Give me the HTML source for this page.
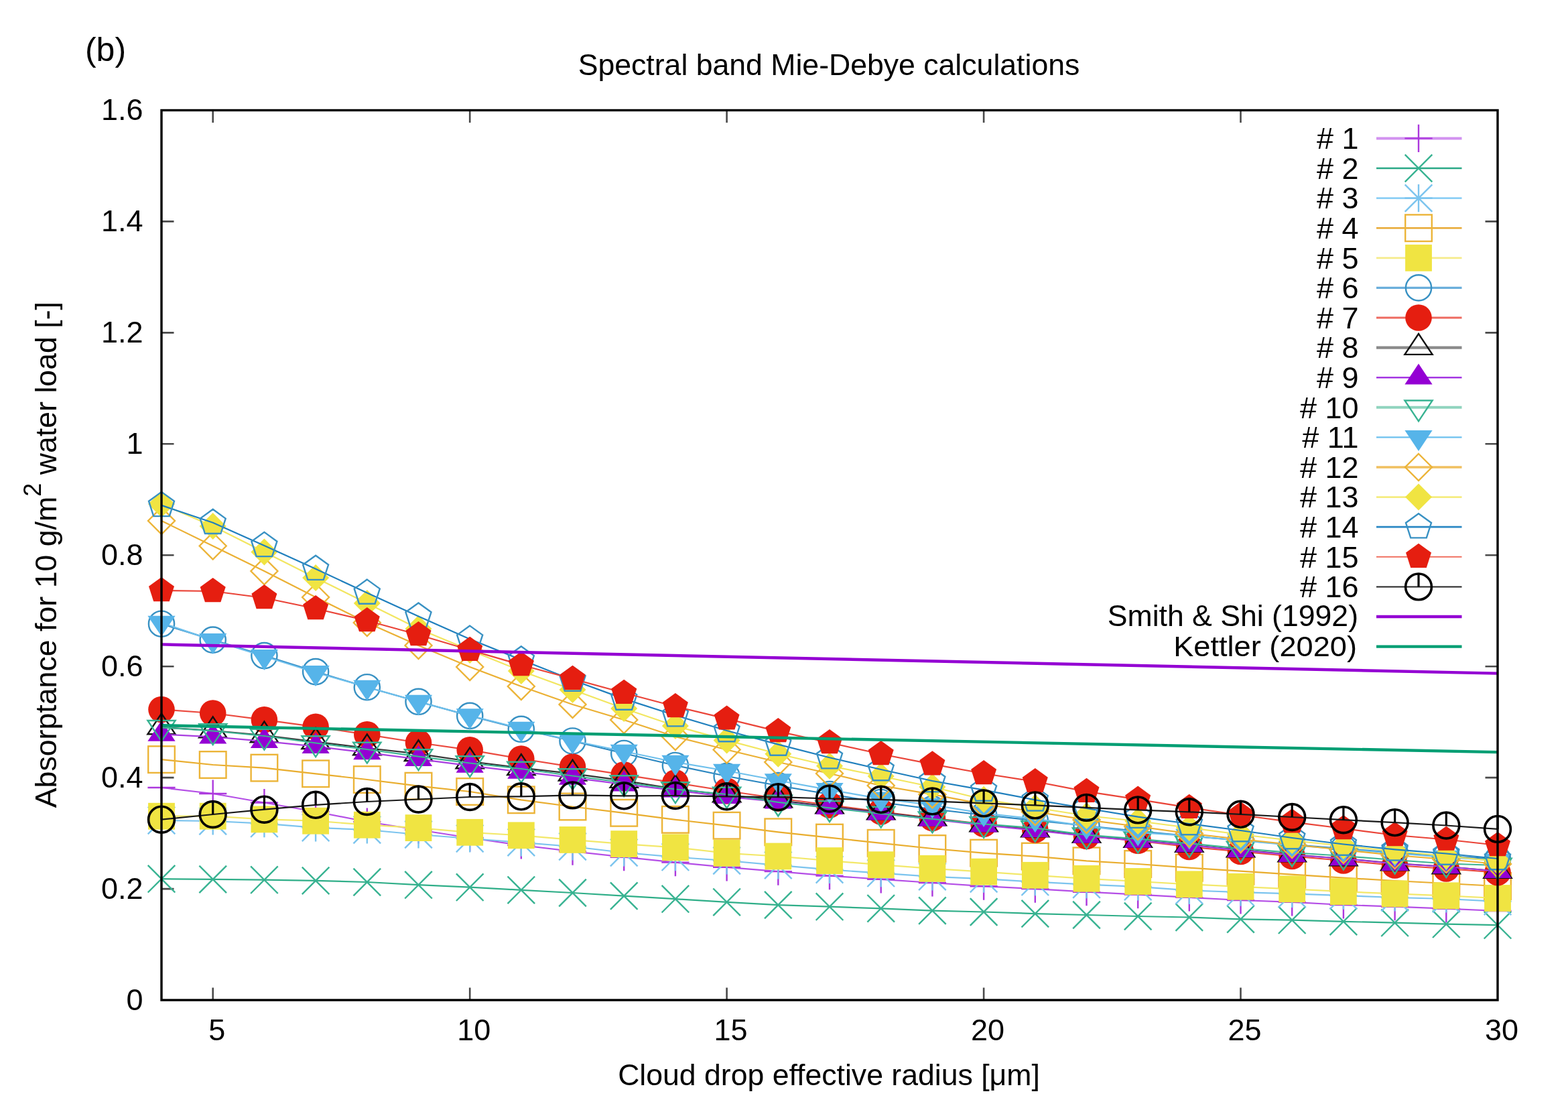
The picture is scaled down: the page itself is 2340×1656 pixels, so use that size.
<!DOCTYPE html><html><head><meta charset="utf-8"><title>Spectral band Mie-Debye calculations</title>
<style>html,body{margin:0;padding:0;background:#fff;}body{width:2340px;height:1656px;overflow:hidden;}svg{display:block;}text{font-family:"Liberation Sans",Arial,Helvetica,sans-serif;fill:#000;}</style></head><body>
<svg width="2340" height="1656" viewBox="0 0 2340 1656">
<rect width="2340" height="1656" fill="#fff"/>
<path d="M317.7 1492V1473.5M317.7 164.5V183M701.2 1492V1473.5M701.2 164.5V183M1084.6 1492V1473.5M1084.6 164.5V183M1468.1 1492V1473.5M1468.1 164.5V183M1851.5 1492V1473.5M1851.5 164.5V183M241 1326.1H259.5M2235 1326.1H2216.5M241 1160.1H259.5M2235 1160.1H2216.5M241 994.2H259.5M2235 994.2H2216.5M241 828.2H259.5M2235 828.2H2216.5M241 662.3H259.5M2235 662.3H2216.5M241 496.4H259.5M2235 496.4H2216.5M241 330.4H259.5M2235 330.4H2216.5" stroke="#4a4a4a" stroke-width="2.6" fill="none"/>
<text x="213.5" y="1506.5" font-size="45" text-anchor="end">0</text>
<text x="213.5" y="1340.6" font-size="45" text-anchor="end">0.2</text>
<text x="213.5" y="1174.6" font-size="45" text-anchor="end">0.4</text>
<text x="213.5" y="1008.7" font-size="45" text-anchor="end">0.6</text>
<text x="213.5" y="842.8" font-size="45" text-anchor="end">0.8</text>
<text x="213.5" y="676.8" font-size="45" text-anchor="end">1</text>
<text x="213.5" y="510.9" font-size="45" text-anchor="end">1.2</text>
<text x="213.5" y="344.9" font-size="45" text-anchor="end">1.4</text>
<text x="213.5" y="179" font-size="45" text-anchor="end">1.6</text>
<text x="323.7" y="1552" font-size="45" text-anchor="middle">5</text>
<text x="707.2" y="1552" font-size="45" text-anchor="middle">10</text>
<text x="1090.6" y="1552" font-size="45" text-anchor="middle">15</text>
<text x="1474.1" y="1552" font-size="45" text-anchor="middle">20</text>
<text x="1857.5" y="1552" font-size="45" text-anchor="middle">25</text>
<text x="2241" y="1552" font-size="45" text-anchor="middle">30</text>
<polyline points="241,1175 317.7,1184 394.4,1197.5 471.1,1211 547.8,1226 624.5,1238 701.2,1250 777.8,1261 854.5,1270.2 931.2,1278.7 1007.9,1286.6 1084.6,1293.8 1161.3,1300.1 1238,1306.6 1314.7,1311.8 1391.4,1317 1468.1,1322.2 1544.8,1326.1 1621.5,1330.7 1698.2,1334.6 1774.8,1338.9 1851.5,1343 1928.2,1345.8 2004.9,1350 2081.6,1352.7 2158.3,1355.7 2235,1359" stroke="#b44ee6" stroke-width="2.2" fill="none" stroke-linejoin="round"/>
<path d="M220.4 1175H261.6M241 1154.4V1195.6" stroke="#ac38dd" stroke-width="2.4" fill="none"/><path d="M297.1 1184H338.3M317.7 1163.4V1204.6" stroke="#ac38dd" stroke-width="2.4" fill="none"/><path d="M373.8 1197.5H415M394.4 1176.9V1218.1" stroke="#ac38dd" stroke-width="2.4" fill="none"/><path d="M450.5 1211H491.7M471.1 1190.4V1231.6" stroke="#ac38dd" stroke-width="2.4" fill="none"/><path d="M527.2 1226H568.4M547.8 1205.4V1246.6" stroke="#ac38dd" stroke-width="2.4" fill="none"/><path d="M603.9 1238H645.1M624.5 1217.4V1258.6" stroke="#ac38dd" stroke-width="2.4" fill="none"/><path d="M680.6 1250H721.8M701.2 1229.4V1270.6" stroke="#ac38dd" stroke-width="2.4" fill="none"/><path d="M757.2 1261H798.4M777.8 1240.4V1281.6" stroke="#ac38dd" stroke-width="2.4" fill="none"/><path d="M833.9 1270.2H875.1M854.5 1249.6V1290.8" stroke="#ac38dd" stroke-width="2.4" fill="none"/><path d="M910.6 1278.7H951.8M931.2 1258.1V1299.3" stroke="#ac38dd" stroke-width="2.4" fill="none"/><path d="M987.3 1286.6H1028.5M1007.9 1266V1307.2" stroke="#ac38dd" stroke-width="2.4" fill="none"/><path d="M1064 1293.8H1105.2M1084.6 1273.2V1314.4" stroke="#ac38dd" stroke-width="2.4" fill="none"/><path d="M1140.7 1300.1H1181.9M1161.3 1279.5V1320.7" stroke="#ac38dd" stroke-width="2.4" fill="none"/><path d="M1217.4 1306.6H1258.6M1238 1286V1327.2" stroke="#ac38dd" stroke-width="2.4" fill="none"/><path d="M1294.1 1311.8H1335.3M1314.7 1291.2V1332.4" stroke="#ac38dd" stroke-width="2.4" fill="none"/><path d="M1370.8 1317H1412M1391.4 1296.4V1337.6" stroke="#ac38dd" stroke-width="2.4" fill="none"/><path d="M1447.5 1322.2H1488.7M1468.1 1301.6V1342.8" stroke="#ac38dd" stroke-width="2.4" fill="none"/><path d="M1524.2 1326.1H1565.4M1544.8 1305.5V1346.7" stroke="#ac38dd" stroke-width="2.4" fill="none"/><path d="M1600.9 1330.7H1642.1M1621.5 1310.1V1351.3" stroke="#ac38dd" stroke-width="2.4" fill="none"/><path d="M1677.6 1334.6H1718.8M1698.2 1314V1355.2" stroke="#ac38dd" stroke-width="2.4" fill="none"/><path d="M1754.2 1338.9H1795.4M1774.8 1318.3V1359.5" stroke="#ac38dd" stroke-width="2.4" fill="none"/><path d="M1830.9 1343H1872.1M1851.5 1322.4V1363.6" stroke="#ac38dd" stroke-width="2.4" fill="none"/><path d="M1907.6 1345.8H1948.8M1928.2 1325.2V1366.4" stroke="#ac38dd" stroke-width="2.4" fill="none"/><path d="M1984.3 1350H2025.5M2004.9 1329.4V1370.6" stroke="#ac38dd" stroke-width="2.4" fill="none"/><path d="M2061 1352.7H2102.2M2081.6 1332.1V1373.3" stroke="#ac38dd" stroke-width="2.4" fill="none"/><path d="M2137.7 1355.7H2178.9M2158.3 1335.1V1376.3" stroke="#ac38dd" stroke-width="2.4" fill="none"/><path d="M2214.4 1359H2255.6M2235 1338.4V1379.6" stroke="#ac38dd" stroke-width="2.4" fill="none"/>
<polyline points="241,1311.2 317.7,1311.9 394.4,1312.7 471.1,1313.9 547.8,1316 624.5,1320.2 701.2,1323.7 777.8,1327.8 854.5,1332 931.2,1336.6 1007.9,1341.2 1084.6,1345.8 1161.3,1350.1 1238,1352.7 1314.7,1355.3 1391.4,1358.6 1468.1,1360.5 1544.8,1363.1 1621.5,1365 1698.2,1367 1774.8,1368.5 1851.5,1371.3 1928.2,1372.7 2004.9,1374.8 2081.6,1376.7 2158.3,1378.7 2235,1380.2" stroke="#2fae88" stroke-width="2.2" fill="none" stroke-linejoin="round"/>
<path d="M220.7 1290.9L261.3 1331.5M220.7 1331.5L261.3 1290.9" stroke="#38b392" stroke-width="2.4" fill="none"/><path d="M297.4 1291.6L338 1332.2M297.4 1332.2L338 1291.6" stroke="#38b392" stroke-width="2.4" fill="none"/><path d="M374.1 1292.4L414.7 1333M374.1 1333L414.7 1292.4" stroke="#38b392" stroke-width="2.4" fill="none"/><path d="M450.8 1293.6L491.4 1334.2M450.8 1334.2L491.4 1293.6" stroke="#38b392" stroke-width="2.4" fill="none"/><path d="M527.5 1295.7L568.1 1336.3M527.5 1336.3L568.1 1295.7" stroke="#38b392" stroke-width="2.4" fill="none"/><path d="M604.2 1299.9L644.8 1340.5M604.2 1340.5L644.8 1299.9" stroke="#38b392" stroke-width="2.4" fill="none"/><path d="M680.9 1303.4L721.5 1344M680.9 1344L721.5 1303.4" stroke="#38b392" stroke-width="2.4" fill="none"/><path d="M757.5 1307.5L798.1 1348.1M757.5 1348.1L798.1 1307.5" stroke="#38b392" stroke-width="2.4" fill="none"/><path d="M834.2 1311.7L874.8 1352.3M834.2 1352.3L874.8 1311.7" stroke="#38b392" stroke-width="2.4" fill="none"/><path d="M910.9 1316.3L951.5 1356.9M910.9 1356.9L951.5 1316.3" stroke="#38b392" stroke-width="2.4" fill="none"/><path d="M987.6 1320.9L1028.2 1361.5M987.6 1361.5L1028.2 1320.9" stroke="#38b392" stroke-width="2.4" fill="none"/><path d="M1064.3 1325.5L1104.9 1366.1M1064.3 1366.1L1104.9 1325.5" stroke="#38b392" stroke-width="2.4" fill="none"/><path d="M1141 1329.8L1181.6 1370.4M1141 1370.4L1181.6 1329.8" stroke="#38b392" stroke-width="2.4" fill="none"/><path d="M1217.7 1332.4L1258.3 1373M1217.7 1373L1258.3 1332.4" stroke="#38b392" stroke-width="2.4" fill="none"/><path d="M1294.4 1335L1335 1375.6M1294.4 1375.6L1335 1335" stroke="#38b392" stroke-width="2.4" fill="none"/><path d="M1371.1 1338.3L1411.7 1378.9M1371.1 1378.9L1411.7 1338.3" stroke="#38b392" stroke-width="2.4" fill="none"/><path d="M1447.8 1340.2L1488.4 1380.8M1447.8 1380.8L1488.4 1340.2" stroke="#38b392" stroke-width="2.4" fill="none"/><path d="M1524.5 1342.8L1565.1 1383.4M1524.5 1383.4L1565.1 1342.8" stroke="#38b392" stroke-width="2.4" fill="none"/><path d="M1601.2 1344.7L1641.8 1385.3M1601.2 1385.3L1641.8 1344.7" stroke="#38b392" stroke-width="2.4" fill="none"/><path d="M1677.9 1346.7L1718.5 1387.3M1677.9 1387.3L1718.5 1346.7" stroke="#38b392" stroke-width="2.4" fill="none"/><path d="M1754.5 1348.2L1795.1 1388.8M1754.5 1388.8L1795.1 1348.2" stroke="#38b392" stroke-width="2.4" fill="none"/><path d="M1831.2 1351L1871.8 1391.6M1831.2 1391.6L1871.8 1351" stroke="#38b392" stroke-width="2.4" fill="none"/><path d="M1907.9 1352.4L1948.5 1393M1907.9 1393L1948.5 1352.4" stroke="#38b392" stroke-width="2.4" fill="none"/><path d="M1984.6 1354.5L2025.2 1395.1M1984.6 1395.1L2025.2 1354.5" stroke="#38b392" stroke-width="2.4" fill="none"/><path d="M2061.3 1356.4L2101.9 1397M2061.3 1397L2101.9 1356.4" stroke="#38b392" stroke-width="2.4" fill="none"/><path d="M2138 1358.4L2178.6 1399M2138 1399L2178.6 1358.4" stroke="#38b392" stroke-width="2.4" fill="none"/><path d="M2214.7 1359.9L2255.3 1400.5M2214.7 1400.5L2255.3 1359.9" stroke="#38b392" stroke-width="2.4" fill="none"/>
<polyline points="241,1224 317.7,1225 394.4,1228.7 471.1,1234.8 547.8,1238 624.5,1245 701.2,1251 777.8,1256.8 854.5,1263 931.2,1272 1007.9,1278.7 1084.6,1284 1161.3,1290.9 1238,1297.4 1314.7,1302.7 1391.4,1307.9 1468.1,1311.1 1544.8,1315.7 1621.5,1319.6 1698.2,1322.9 1774.8,1328.4 1851.5,1331.2 1928.2,1333.3 2004.9,1336.1 2081.6,1339 2158.3,1341 2235,1344.8" stroke="#7cc4ee" stroke-width="2.2" fill="none" stroke-linejoin="round"/>
<path d="M220.7 1203.7L261.3 1244.3M220.7 1244.3L261.3 1203.7M220.4 1224H261.6M241 1203.4V1244.6" stroke="#7bc4ee" stroke-width="2.4" fill="none"/><path d="M297.4 1204.7L338 1245.3M297.4 1245.3L338 1204.7M297.1 1225H338.3M317.7 1204.4V1245.6" stroke="#7bc4ee" stroke-width="2.4" fill="none"/><path d="M374.1 1208.4L414.7 1249M374.1 1249L414.7 1208.4M373.8 1228.7H415M394.4 1208.1V1249.3" stroke="#7bc4ee" stroke-width="2.4" fill="none"/><path d="M450.8 1214.5L491.4 1255.1M450.8 1255.1L491.4 1214.5M450.5 1234.8H491.7M471.1 1214.2V1255.4" stroke="#7bc4ee" stroke-width="2.4" fill="none"/><path d="M527.5 1217.7L568.1 1258.3M527.5 1258.3L568.1 1217.7M527.2 1238H568.4M547.8 1217.4V1258.6" stroke="#7bc4ee" stroke-width="2.4" fill="none"/><path d="M604.2 1224.7L644.8 1265.3M604.2 1265.3L644.8 1224.7M603.9 1245H645.1M624.5 1224.4V1265.6" stroke="#7bc4ee" stroke-width="2.4" fill="none"/><path d="M680.9 1230.7L721.5 1271.3M680.9 1271.3L721.5 1230.7M680.6 1251H721.8M701.2 1230.4V1271.6" stroke="#7bc4ee" stroke-width="2.4" fill="none"/><path d="M757.5 1236.5L798.1 1277.1M757.5 1277.1L798.1 1236.5M757.2 1256.8H798.4M777.8 1236.2V1277.4" stroke="#7bc4ee" stroke-width="2.4" fill="none"/><path d="M834.2 1242.7L874.8 1283.3M834.2 1283.3L874.8 1242.7M833.9 1263H875.1M854.5 1242.4V1283.6" stroke="#7bc4ee" stroke-width="2.4" fill="none"/><path d="M910.9 1251.7L951.5 1292.3M910.9 1292.3L951.5 1251.7M910.6 1272H951.8M931.2 1251.4V1292.6" stroke="#7bc4ee" stroke-width="2.4" fill="none"/><path d="M987.6 1258.4L1028.2 1299M987.6 1299L1028.2 1258.4M987.3 1278.7H1028.5M1007.9 1258.1V1299.3" stroke="#7bc4ee" stroke-width="2.4" fill="none"/><path d="M1064.3 1263.7L1104.9 1304.3M1064.3 1304.3L1104.9 1263.7M1064 1284H1105.2M1084.6 1263.4V1304.6" stroke="#7bc4ee" stroke-width="2.4" fill="none"/><path d="M1141 1270.6L1181.6 1311.2M1141 1311.2L1181.6 1270.6M1140.7 1290.9H1181.9M1161.3 1270.3V1311.5" stroke="#7bc4ee" stroke-width="2.4" fill="none"/><path d="M1217.7 1277.1L1258.3 1317.7M1217.7 1317.7L1258.3 1277.1M1217.4 1297.4H1258.6M1238 1276.8V1318" stroke="#7bc4ee" stroke-width="2.4" fill="none"/><path d="M1294.4 1282.4L1335 1323M1294.4 1323L1335 1282.4M1294.1 1302.7H1335.3M1314.7 1282.1V1323.3" stroke="#7bc4ee" stroke-width="2.4" fill="none"/><path d="M1371.1 1287.6L1411.7 1328.2M1371.1 1328.2L1411.7 1287.6M1370.8 1307.9H1412M1391.4 1287.3V1328.5" stroke="#7bc4ee" stroke-width="2.4" fill="none"/><path d="M1447.8 1290.8L1488.4 1331.4M1447.8 1331.4L1488.4 1290.8M1447.5 1311.1H1488.7M1468.1 1290.5V1331.7" stroke="#7bc4ee" stroke-width="2.4" fill="none"/><path d="M1524.5 1295.4L1565.1 1336M1524.5 1336L1565.1 1295.4M1524.2 1315.7H1565.4M1544.8 1295.1V1336.3" stroke="#7bc4ee" stroke-width="2.4" fill="none"/><path d="M1601.2 1299.3L1641.8 1339.9M1601.2 1339.9L1641.8 1299.3M1600.9 1319.6H1642.1M1621.5 1299V1340.2" stroke="#7bc4ee" stroke-width="2.4" fill="none"/><path d="M1677.9 1302.6L1718.5 1343.2M1677.9 1343.2L1718.5 1302.6M1677.6 1322.9H1718.8M1698.2 1302.3V1343.5" stroke="#7bc4ee" stroke-width="2.4" fill="none"/><path d="M1754.5 1308.1L1795.1 1348.7M1754.5 1348.7L1795.1 1308.1M1754.2 1328.4H1795.4M1774.8 1307.8V1349" stroke="#7bc4ee" stroke-width="2.4" fill="none"/><path d="M1831.2 1310.9L1871.8 1351.5M1831.2 1351.5L1871.8 1310.9M1830.9 1331.2H1872.1M1851.5 1310.6V1351.8" stroke="#7bc4ee" stroke-width="2.4" fill="none"/><path d="M1907.9 1313L1948.5 1353.6M1907.9 1353.6L1948.5 1313M1907.6 1333.3H1948.8M1928.2 1312.7V1353.9" stroke="#7bc4ee" stroke-width="2.4" fill="none"/><path d="M1984.6 1315.8L2025.2 1356.4M1984.6 1356.4L2025.2 1315.8M1984.3 1336.1H2025.5M2004.9 1315.5V1356.7" stroke="#7bc4ee" stroke-width="2.4" fill="none"/><path d="M2061.3 1318.7L2101.9 1359.3M2061.3 1359.3L2101.9 1318.7M2061 1339H2102.2M2081.6 1318.4V1359.6" stroke="#7bc4ee" stroke-width="2.4" fill="none"/><path d="M2138 1320.7L2178.6 1361.3M2138 1361.3L2178.6 1320.7M2137.7 1341H2178.9M2158.3 1320.4V1361.6" stroke="#7bc4ee" stroke-width="2.4" fill="none"/><path d="M2214.7 1324.5L2255.3 1365.1M2214.7 1365.1L2255.3 1324.5M2214.4 1344.8H2255.6M2235 1324.2V1365.4" stroke="#7bc4ee" stroke-width="2.4" fill="none"/>
<polyline points="241,1133.1 317.7,1141 394.4,1145.6 471.1,1154.3 547.8,1163 624.5,1172.7 701.2,1181 777.8,1193.3 854.5,1203.5 931.2,1212.8 1007.9,1222.8 1084.6,1231.7 1161.3,1241.3 1238,1249.6 1314.7,1257.8 1391.4,1266 1468.1,1272.6 1544.8,1277.6 1621.5,1284.3 1698.2,1289 1774.8,1294.7 1851.5,1299.7 1928.2,1304.7 2004.9,1309.7 2081.6,1314 2158.3,1318 2235,1322" stroke="#e9ad2e" stroke-width="2.2" fill="none" stroke-linejoin="round"/>
<rect x="221.2" y="1113.3" width="39.6" height="39.6" stroke="#ecb438" stroke-width="2.4" fill="none"/><rect x="297.9" y="1121.2" width="39.6" height="39.6" stroke="#ecb438" stroke-width="2.4" fill="none"/><rect x="374.6" y="1125.8" width="39.6" height="39.6" stroke="#ecb438" stroke-width="2.4" fill="none"/><rect x="451.3" y="1134.5" width="39.6" height="39.6" stroke="#ecb438" stroke-width="2.4" fill="none"/><rect x="528" y="1143.2" width="39.6" height="39.6" stroke="#ecb438" stroke-width="2.4" fill="none"/><rect x="604.7" y="1152.9" width="39.6" height="39.6" stroke="#ecb438" stroke-width="2.4" fill="none"/><rect x="681.4" y="1161.2" width="39.6" height="39.6" stroke="#ecb438" stroke-width="2.4" fill="none"/><rect x="758" y="1173.5" width="39.6" height="39.6" stroke="#ecb438" stroke-width="2.4" fill="none"/><rect x="834.7" y="1183.7" width="39.6" height="39.6" stroke="#ecb438" stroke-width="2.4" fill="none"/><rect x="911.4" y="1193" width="39.6" height="39.6" stroke="#ecb438" stroke-width="2.4" fill="none"/><rect x="988.1" y="1203" width="39.6" height="39.6" stroke="#ecb438" stroke-width="2.4" fill="none"/><rect x="1064.8" y="1211.9" width="39.6" height="39.6" stroke="#ecb438" stroke-width="2.4" fill="none"/><rect x="1141.5" y="1221.5" width="39.6" height="39.6" stroke="#ecb438" stroke-width="2.4" fill="none"/><rect x="1218.2" y="1229.8" width="39.6" height="39.6" stroke="#ecb438" stroke-width="2.4" fill="none"/><rect x="1294.9" y="1238" width="39.6" height="39.6" stroke="#ecb438" stroke-width="2.4" fill="none"/><rect x="1371.6" y="1246.2" width="39.6" height="39.6" stroke="#ecb438" stroke-width="2.4" fill="none"/><rect x="1448.3" y="1252.8" width="39.6" height="39.6" stroke="#ecb438" stroke-width="2.4" fill="none"/><rect x="1525" y="1257.8" width="39.6" height="39.6" stroke="#ecb438" stroke-width="2.4" fill="none"/><rect x="1601.7" y="1264.5" width="39.6" height="39.6" stroke="#ecb438" stroke-width="2.4" fill="none"/><rect x="1678.4" y="1269.2" width="39.6" height="39.6" stroke="#ecb438" stroke-width="2.4" fill="none"/><rect x="1755" y="1274.9" width="39.6" height="39.6" stroke="#ecb438" stroke-width="2.4" fill="none"/><rect x="1831.7" y="1279.9" width="39.6" height="39.6" stroke="#ecb438" stroke-width="2.4" fill="none"/><rect x="1908.4" y="1284.9" width="39.6" height="39.6" stroke="#ecb438" stroke-width="2.4" fill="none"/><rect x="1985.1" y="1289.9" width="39.6" height="39.6" stroke="#ecb438" stroke-width="2.4" fill="none"/><rect x="2061.8" y="1294.2" width="39.6" height="39.6" stroke="#ecb438" stroke-width="2.4" fill="none"/><rect x="2138.5" y="1298.2" width="39.6" height="39.6" stroke="#ecb438" stroke-width="2.4" fill="none"/><rect x="2215.2" y="1302.2" width="39.6" height="39.6" stroke="#ecb438" stroke-width="2.4" fill="none"/>
<polyline points="241,1217.7 317.7,1217.7 394.4,1222.4 471.1,1224.7 547.8,1230.7 624.5,1235.1 701.2,1241.8 777.8,1246.3 854.5,1252.9 931.2,1259.1 1007.9,1264.3 1084.6,1272.8 1161.3,1277.5 1238,1284.1 1314.7,1290.2 1391.4,1295.8 1468.1,1300.6 1544.8,1305.8 1621.5,1310.8 1698.2,1315 1774.8,1319.3 1851.5,1322.8 1928.2,1326.3 2004.9,1330.2 2081.6,1333.4 2158.3,1336.3 2235,1340" stroke="#f3e86a" stroke-width="2.2" fill="none" stroke-linejoin="round"/>
<rect x="221.1" y="1197.8" width="39.8" height="39.8" fill="#f0e442"/><rect x="297.8" y="1197.8" width="39.8" height="39.8" fill="#f0e442"/><rect x="374.5" y="1202.5" width="39.8" height="39.8" fill="#f0e442"/><rect x="451.2" y="1204.8" width="39.8" height="39.8" fill="#f0e442"/><rect x="527.9" y="1210.8" width="39.8" height="39.8" fill="#f0e442"/><rect x="604.6" y="1215.2" width="39.8" height="39.8" fill="#f0e442"/><rect x="681.3" y="1221.9" width="39.8" height="39.8" fill="#f0e442"/><rect x="757.9" y="1226.4" width="39.8" height="39.8" fill="#f0e442"/><rect x="834.6" y="1233" width="39.8" height="39.8" fill="#f0e442"/><rect x="911.3" y="1239.2" width="39.8" height="39.8" fill="#f0e442"/><rect x="988" y="1244.4" width="39.8" height="39.8" fill="#f0e442"/><rect x="1064.7" y="1252.9" width="39.8" height="39.8" fill="#f0e442"/><rect x="1141.4" y="1257.6" width="39.8" height="39.8" fill="#f0e442"/><rect x="1218.1" y="1264.2" width="39.8" height="39.8" fill="#f0e442"/><rect x="1294.8" y="1270.3" width="39.8" height="39.8" fill="#f0e442"/><rect x="1371.5" y="1275.9" width="39.8" height="39.8" fill="#f0e442"/><rect x="1448.2" y="1280.7" width="39.8" height="39.8" fill="#f0e442"/><rect x="1524.9" y="1285.9" width="39.8" height="39.8" fill="#f0e442"/><rect x="1601.6" y="1290.9" width="39.8" height="39.8" fill="#f0e442"/><rect x="1678.3" y="1295.1" width="39.8" height="39.8" fill="#f0e442"/><rect x="1754.9" y="1299.4" width="39.8" height="39.8" fill="#f0e442"/><rect x="1831.6" y="1302.9" width="39.8" height="39.8" fill="#f0e442"/><rect x="1908.3" y="1306.4" width="39.8" height="39.8" fill="#f0e442"/><rect x="1985" y="1310.3" width="39.8" height="39.8" fill="#f0e442"/><rect x="2061.7" y="1313.5" width="39.8" height="39.8" fill="#f0e442"/><rect x="2138.4" y="1316.4" width="39.8" height="39.8" fill="#f0e442"/><rect x="2215.1" y="1320.1" width="39.8" height="39.8" fill="#f0e442"/>
<polyline points="241,930.7 317.7,954.6 394.4,978.1 471.1,1002.1 547.8,1025.2 624.5,1046.8 701.2,1067.9 777.8,1087.8 854.5,1105.5 931.2,1124 1007.9,1142 1084.6,1158 1161.3,1172 1238,1185 1314.7,1197 1391.4,1207 1468.1,1216 1544.8,1224 1621.5,1232 1698.2,1240 1774.8,1247 1851.5,1254 1928.2,1260 2004.9,1266 2081.6,1272 2158.3,1277 2235,1282" stroke="#2a86c0" stroke-width="2.2" fill="none" stroke-linejoin="round"/>
<circle cx="241" cy="930.7" r="19.1" stroke="#3891c3" stroke-width="2.4" fill="none"/><circle cx="317.7" cy="954.6" r="19.1" stroke="#3891c3" stroke-width="2.4" fill="none"/><circle cx="394.4" cy="978.1" r="19.1" stroke="#3891c3" stroke-width="2.4" fill="none"/><circle cx="471.1" cy="1002.1" r="19.1" stroke="#3891c3" stroke-width="2.4" fill="none"/><circle cx="547.8" cy="1025.2" r="19.1" stroke="#3891c3" stroke-width="2.4" fill="none"/><circle cx="624.5" cy="1046.8" r="19.1" stroke="#3891c3" stroke-width="2.4" fill="none"/><circle cx="701.2" cy="1067.9" r="19.1" stroke="#3891c3" stroke-width="2.4" fill="none"/><circle cx="777.8" cy="1087.8" r="19.1" stroke="#3891c3" stroke-width="2.4" fill="none"/><circle cx="854.5" cy="1105.5" r="19.1" stroke="#3891c3" stroke-width="2.4" fill="none"/><circle cx="931.2" cy="1124" r="19.1" stroke="#3891c3" stroke-width="2.4" fill="none"/><circle cx="1007.9" cy="1142" r="19.1" stroke="#3891c3" stroke-width="2.4" fill="none"/><circle cx="1084.6" cy="1158" r="19.1" stroke="#3891c3" stroke-width="2.4" fill="none"/><circle cx="1161.3" cy="1172" r="19.1" stroke="#3891c3" stroke-width="2.4" fill="none"/><circle cx="1238" cy="1185" r="19.1" stroke="#3891c3" stroke-width="2.4" fill="none"/><circle cx="1314.7" cy="1197" r="19.1" stroke="#3891c3" stroke-width="2.4" fill="none"/><circle cx="1391.4" cy="1207" r="19.1" stroke="#3891c3" stroke-width="2.4" fill="none"/><circle cx="1468.1" cy="1216" r="19.1" stroke="#3891c3" stroke-width="2.4" fill="none"/><circle cx="1544.8" cy="1224" r="19.1" stroke="#3891c3" stroke-width="2.4" fill="none"/><circle cx="1621.5" cy="1232" r="19.1" stroke="#3891c3" stroke-width="2.4" fill="none"/><circle cx="1698.2" cy="1240" r="19.1" stroke="#3891c3" stroke-width="2.4" fill="none"/><circle cx="1774.8" cy="1247" r="19.1" stroke="#3891c3" stroke-width="2.4" fill="none"/><circle cx="1851.5" cy="1254" r="19.1" stroke="#3891c3" stroke-width="2.4" fill="none"/><circle cx="1928.2" cy="1260" r="19.1" stroke="#3891c3" stroke-width="2.4" fill="none"/><circle cx="2004.9" cy="1266" r="19.1" stroke="#3891c3" stroke-width="2.4" fill="none"/><circle cx="2081.6" cy="1272" r="19.1" stroke="#3891c3" stroke-width="2.4" fill="none"/><circle cx="2158.3" cy="1277" r="19.1" stroke="#3891c3" stroke-width="2.4" fill="none"/><circle cx="2235" cy="1282" r="19.1" stroke="#3891c3" stroke-width="2.4" fill="none"/>
<polyline points="241,1058.5 317.7,1064 394.4,1073.8 471.1,1084.3 547.8,1095.8 624.5,1108 701.2,1118.8 777.8,1132 854.5,1144.1 931.2,1155.9 1007.9,1167.9 1084.6,1180 1161.3,1191 1238,1201 1314.7,1211 1391.4,1220.5 1468.1,1229.3 1544.8,1238 1621.5,1247.4 1698.2,1254.3 1774.8,1263.5 1851.5,1270.4 1928.2,1277.4 2004.9,1284 2081.6,1291 2158.3,1296 2235,1301.6" stroke="#eb4a3f" stroke-width="2.2" fill="none" stroke-linejoin="round"/>
<circle cx="241" cy="1058.5" r="19.8" fill="#e51e10"/><circle cx="317.7" cy="1064" r="19.8" fill="#e51e10"/><circle cx="394.4" cy="1073.8" r="19.8" fill="#e51e10"/><circle cx="471.1" cy="1084.3" r="19.8" fill="#e51e10"/><circle cx="547.8" cy="1095.8" r="19.8" fill="#e51e10"/><circle cx="624.5" cy="1108" r="19.8" fill="#e51e10"/><circle cx="701.2" cy="1118.8" r="19.8" fill="#e51e10"/><circle cx="777.8" cy="1132" r="19.8" fill="#e51e10"/><circle cx="854.5" cy="1144.1" r="19.8" fill="#e51e10"/><circle cx="931.2" cy="1155.9" r="19.8" fill="#e51e10"/><circle cx="1007.9" cy="1167.9" r="19.8" fill="#e51e10"/><circle cx="1084.6" cy="1180" r="19.8" fill="#e51e10"/><circle cx="1161.3" cy="1191" r="19.8" fill="#e51e10"/><circle cx="1238" cy="1201" r="19.8" fill="#e51e10"/><circle cx="1314.7" cy="1211" r="19.8" fill="#e51e10"/><circle cx="1391.4" cy="1220.5" r="19.8" fill="#e51e10"/><circle cx="1468.1" cy="1229.3" r="19.8" fill="#e51e10"/><circle cx="1544.8" cy="1238" r="19.8" fill="#e51e10"/><circle cx="1621.5" cy="1247.4" r="19.8" fill="#e51e10"/><circle cx="1698.2" cy="1254.3" r="19.8" fill="#e51e10"/><circle cx="1774.8" cy="1263.5" r="19.8" fill="#e51e10"/><circle cx="1851.5" cy="1270.4" r="19.8" fill="#e51e10"/><circle cx="1928.2" cy="1277.4" r="19.8" fill="#e51e10"/><circle cx="2004.9" cy="1284" r="19.8" fill="#e51e10"/><circle cx="2081.6" cy="1291" r="19.8" fill="#e51e10"/><circle cx="2158.3" cy="1296" r="19.8" fill="#e51e10"/><circle cx="2235" cy="1301.6" r="19.8" fill="#e51e10"/>
<polyline points="241,1085 317.7,1090 394.4,1097 471.1,1106.7 547.8,1116 624.5,1124.7 701.2,1136 777.8,1145.7 854.5,1154.2 931.2,1164.6 1007.9,1177 1084.6,1186 1161.3,1194 1238,1203 1314.7,1212 1391.4,1221 1468.1,1230 1544.8,1238 1621.5,1246.5 1698.2,1253.5 1774.8,1260.5 1851.5,1268 1928.2,1275 2004.9,1281 2081.6,1288 2158.3,1293 2235,1299.5" stroke="#333333" stroke-width="2.2" fill="none" stroke-linejoin="round"/>
<path d="M241 1064.4L261.6 1095.3L220.4 1095.3Z" stroke="#111111" stroke-width="2.4" fill="none" stroke-linejoin="miter"/><path d="M317.7 1069.4L338.3 1100.3L297.1 1100.3Z" stroke="#111111" stroke-width="2.4" fill="none" stroke-linejoin="miter"/><path d="M394.4 1076.4L415 1107.3L373.8 1107.3Z" stroke="#111111" stroke-width="2.4" fill="none" stroke-linejoin="miter"/><path d="M471.1 1086.1L491.7 1117L450.5 1117Z" stroke="#111111" stroke-width="2.4" fill="none" stroke-linejoin="miter"/><path d="M547.8 1095.4L568.4 1126.3L527.2 1126.3Z" stroke="#111111" stroke-width="2.4" fill="none" stroke-linejoin="miter"/><path d="M624.5 1104.1L645.1 1135L603.9 1135Z" stroke="#111111" stroke-width="2.4" fill="none" stroke-linejoin="miter"/><path d="M701.2 1115.4L721.8 1146.3L680.6 1146.3Z" stroke="#111111" stroke-width="2.4" fill="none" stroke-linejoin="miter"/><path d="M777.8 1125.1L798.4 1156L757.2 1156Z" stroke="#111111" stroke-width="2.4" fill="none" stroke-linejoin="miter"/><path d="M854.5 1133.6L875.1 1164.5L833.9 1164.5Z" stroke="#111111" stroke-width="2.4" fill="none" stroke-linejoin="miter"/><path d="M931.2 1144L951.8 1174.9L910.6 1174.9Z" stroke="#111111" stroke-width="2.4" fill="none" stroke-linejoin="miter"/><path d="M1007.9 1156.4L1028.5 1187.3L987.3 1187.3Z" stroke="#111111" stroke-width="2.4" fill="none" stroke-linejoin="miter"/><path d="M1084.6 1165.4L1105.2 1196.3L1064 1196.3Z" stroke="#111111" stroke-width="2.4" fill="none" stroke-linejoin="miter"/><path d="M1161.3 1173.4L1181.9 1204.3L1140.7 1204.3Z" stroke="#111111" stroke-width="2.4" fill="none" stroke-linejoin="miter"/><path d="M1238 1182.4L1258.6 1213.3L1217.4 1213.3Z" stroke="#111111" stroke-width="2.4" fill="none" stroke-linejoin="miter"/><path d="M1314.7 1191.4L1335.3 1222.3L1294.1 1222.3Z" stroke="#111111" stroke-width="2.4" fill="none" stroke-linejoin="miter"/><path d="M1391.4 1200.4L1412 1231.3L1370.8 1231.3Z" stroke="#111111" stroke-width="2.4" fill="none" stroke-linejoin="miter"/><path d="M1468.1 1209.4L1488.7 1240.3L1447.5 1240.3Z" stroke="#111111" stroke-width="2.4" fill="none" stroke-linejoin="miter"/><path d="M1544.8 1217.4L1565.4 1248.3L1524.2 1248.3Z" stroke="#111111" stroke-width="2.4" fill="none" stroke-linejoin="miter"/><path d="M1621.5 1225.9L1642.1 1256.8L1600.9 1256.8Z" stroke="#111111" stroke-width="2.4" fill="none" stroke-linejoin="miter"/><path d="M1698.2 1232.9L1718.8 1263.8L1677.6 1263.8Z" stroke="#111111" stroke-width="2.4" fill="none" stroke-linejoin="miter"/><path d="M1774.8 1239.9L1795.4 1270.8L1754.2 1270.8Z" stroke="#111111" stroke-width="2.4" fill="none" stroke-linejoin="miter"/><path d="M1851.5 1247.4L1872.1 1278.3L1830.9 1278.3Z" stroke="#111111" stroke-width="2.4" fill="none" stroke-linejoin="miter"/><path d="M1928.2 1254.4L1948.8 1285.3L1907.6 1285.3Z" stroke="#111111" stroke-width="2.4" fill="none" stroke-linejoin="miter"/><path d="M2004.9 1260.4L2025.5 1291.3L1984.3 1291.3Z" stroke="#111111" stroke-width="2.4" fill="none" stroke-linejoin="miter"/><path d="M2081.6 1267.4L2102.2 1298.3L2061 1298.3Z" stroke="#111111" stroke-width="2.4" fill="none" stroke-linejoin="miter"/><path d="M2158.3 1272.4L2178.9 1303.3L2137.7 1303.3Z" stroke="#111111" stroke-width="2.4" fill="none" stroke-linejoin="miter"/><path d="M2235 1278.9L2255.6 1309.8L2214.4 1309.8Z" stroke="#111111" stroke-width="2.4" fill="none" stroke-linejoin="miter"/>
<polyline points="241,1095.4 317.7,1099.3 394.4,1105.8 471.1,1113.7 547.8,1122.9 624.5,1132.6 701.2,1142.4 777.8,1151.4 854.5,1160.4 931.2,1170.2 1007.9,1179.1 1084.6,1188.7 1161.3,1196.2 1238,1204.7 1314.7,1213.2 1391.4,1222.4 1468.1,1231.1 1544.8,1238.8 1621.5,1247.5 1698.2,1254.4 1774.8,1261 1851.5,1268.7 1928.2,1275.6 2004.9,1281 2081.6,1288.6 2158.3,1293 2235,1299.8" stroke="#a93ee0" stroke-width="2.2" fill="none" stroke-linejoin="round"/>
<path d="M241 1074.8L261.6 1105.7L220.4 1105.7Z" fill="#9400d3"/><path d="M317.7 1078.7L338.3 1109.6L297.1 1109.6Z" fill="#9400d3"/><path d="M394.4 1085.2L415 1116.1L373.8 1116.1Z" fill="#9400d3"/><path d="M471.1 1093.1L491.7 1124L450.5 1124Z" fill="#9400d3"/><path d="M547.8 1102.3L568.4 1133.2L527.2 1133.2Z" fill="#9400d3"/><path d="M624.5 1112L645.1 1142.9L603.9 1142.9Z" fill="#9400d3"/><path d="M701.2 1121.8L721.8 1152.7L680.6 1152.7Z" fill="#9400d3"/><path d="M777.8 1130.8L798.4 1161.7L757.2 1161.7Z" fill="#9400d3"/><path d="M854.5 1139.8L875.1 1170.7L833.9 1170.7Z" fill="#9400d3"/><path d="M931.2 1149.6L951.8 1180.5L910.6 1180.5Z" fill="#9400d3"/><path d="M1007.9 1158.5L1028.5 1189.4L987.3 1189.4Z" fill="#9400d3"/><path d="M1084.6 1168.1L1105.2 1199L1064 1199Z" fill="#9400d3"/><path d="M1161.3 1175.6L1181.9 1206.5L1140.7 1206.5Z" fill="#9400d3"/><path d="M1238 1184.1L1258.6 1215L1217.4 1215Z" fill="#9400d3"/><path d="M1314.7 1192.6L1335.3 1223.5L1294.1 1223.5Z" fill="#9400d3"/><path d="M1391.4 1201.8L1412 1232.7L1370.8 1232.7Z" fill="#9400d3"/><path d="M1468.1 1210.5L1488.7 1241.4L1447.5 1241.4Z" fill="#9400d3"/><path d="M1544.8 1218.2L1565.4 1249.1L1524.2 1249.1Z" fill="#9400d3"/><path d="M1621.5 1226.9L1642.1 1257.8L1600.9 1257.8Z" fill="#9400d3"/><path d="M1698.2 1233.8L1718.8 1264.7L1677.6 1264.7Z" fill="#9400d3"/><path d="M1774.8 1240.4L1795.4 1271.3L1754.2 1271.3Z" fill="#9400d3"/><path d="M1851.5 1248.1L1872.1 1279L1830.9 1279Z" fill="#9400d3"/><path d="M1928.2 1255L1948.8 1285.9L1907.6 1285.9Z" fill="#9400d3"/><path d="M2004.9 1260.4L2025.5 1291.3L1984.3 1291.3Z" fill="#9400d3"/><path d="M2081.6 1268L2102.2 1298.9L2061 1298.9Z" fill="#9400d3"/><path d="M2158.3 1272.4L2178.9 1303.3L2137.7 1303.3Z" fill="#9400d3"/><path d="M2235 1279.2L2255.6 1310.1L2214.4 1310.1Z" fill="#9400d3"/>
<polyline points="241,1085.3 317.7,1090.5 394.4,1098 471.1,1108.5 547.8,1118 624.5,1128.6 701.2,1138.5 777.8,1147 854.5,1157.5 931.2,1167.5 1007.9,1177.5 1084.6,1185 1161.3,1196.9 1238,1205.4 1314.7,1214 1391.4,1221.8 1468.1,1229.3 1544.8,1235.3 1621.5,1245.7 1698.2,1251.7 1774.8,1258.3 1851.5,1265.9 1928.2,1272 2004.9,1277 2081.6,1283 2158.3,1288.5 2235,1291" stroke="#3db493" stroke-width="2.2" fill="none" stroke-linejoin="round"/>
<path d="M241 1105.9L261.6 1075L220.4 1075Z" stroke="#38b392" stroke-width="2.4" fill="none"/><path d="M317.7 1111.1L338.3 1080.2L297.1 1080.2Z" stroke="#38b392" stroke-width="2.4" fill="none"/><path d="M394.4 1118.6L415 1087.7L373.8 1087.7Z" stroke="#38b392" stroke-width="2.4" fill="none"/><path d="M471.1 1129.1L491.7 1098.2L450.5 1098.2Z" stroke="#38b392" stroke-width="2.4" fill="none"/><path d="M547.8 1138.6L568.4 1107.7L527.2 1107.7Z" stroke="#38b392" stroke-width="2.4" fill="none"/><path d="M624.5 1149.2L645.1 1118.3L603.9 1118.3Z" stroke="#38b392" stroke-width="2.4" fill="none"/><path d="M701.2 1159.1L721.8 1128.2L680.6 1128.2Z" stroke="#38b392" stroke-width="2.4" fill="none"/><path d="M777.8 1167.6L798.4 1136.7L757.2 1136.7Z" stroke="#38b392" stroke-width="2.4" fill="none"/><path d="M854.5 1178.1L875.1 1147.2L833.9 1147.2Z" stroke="#38b392" stroke-width="2.4" fill="none"/><path d="M931.2 1188.1L951.8 1157.2L910.6 1157.2Z" stroke="#38b392" stroke-width="2.4" fill="none"/><path d="M1007.9 1198.1L1028.5 1167.2L987.3 1167.2Z" stroke="#38b392" stroke-width="2.4" fill="none"/><path d="M1084.6 1205.6L1105.2 1174.7L1064 1174.7Z" stroke="#38b392" stroke-width="2.4" fill="none"/><path d="M1161.3 1217.5L1181.9 1186.6L1140.7 1186.6Z" stroke="#38b392" stroke-width="2.4" fill="none"/><path d="M1238 1226L1258.6 1195.1L1217.4 1195.1Z" stroke="#38b392" stroke-width="2.4" fill="none"/><path d="M1314.7 1234.6L1335.3 1203.7L1294.1 1203.7Z" stroke="#38b392" stroke-width="2.4" fill="none"/><path d="M1391.4 1242.4L1412 1211.5L1370.8 1211.5Z" stroke="#38b392" stroke-width="2.4" fill="none"/><path d="M1468.1 1249.9L1488.7 1219L1447.5 1219Z" stroke="#38b392" stroke-width="2.4" fill="none"/><path d="M1544.8 1255.9L1565.4 1225L1524.2 1225Z" stroke="#38b392" stroke-width="2.4" fill="none"/><path d="M1621.5 1266.3L1642.1 1235.4L1600.9 1235.4Z" stroke="#38b392" stroke-width="2.4" fill="none"/><path d="M1698.2 1272.3L1718.8 1241.4L1677.6 1241.4Z" stroke="#38b392" stroke-width="2.4" fill="none"/><path d="M1774.8 1278.9L1795.4 1248L1754.2 1248Z" stroke="#38b392" stroke-width="2.4" fill="none"/><path d="M1851.5 1286.5L1872.1 1255.6L1830.9 1255.6Z" stroke="#38b392" stroke-width="2.4" fill="none"/><path d="M1928.2 1292.6L1948.8 1261.7L1907.6 1261.7Z" stroke="#38b392" stroke-width="2.4" fill="none"/><path d="M2004.9 1297.6L2025.5 1266.7L1984.3 1266.7Z" stroke="#38b392" stroke-width="2.4" fill="none"/><path d="M2081.6 1303.6L2102.2 1272.7L2061 1272.7Z" stroke="#38b392" stroke-width="2.4" fill="none"/><path d="M2158.3 1309.1L2178.9 1278.2L2137.7 1278.2Z" stroke="#38b392" stroke-width="2.4" fill="none"/><path d="M2235 1311.6L2255.6 1280.7L2214.4 1280.7Z" stroke="#38b392" stroke-width="2.4" fill="none"/>
<polyline points="241,929 317.7,955.4 394.4,979.3 471.1,1003.3 547.8,1025 624.5,1047 701.2,1067.5 777.8,1087 854.5,1105 931.2,1121 1007.9,1137 1084.6,1150 1161.3,1164.5 1238,1178.3 1314.7,1191.7 1391.4,1201 1468.1,1213.4 1544.8,1221.6 1621.5,1232.3 1698.2,1241.8 1774.8,1247.1 1851.5,1254 1928.2,1261 2004.9,1267 2081.6,1273 2158.3,1279 2235,1284" stroke="#6fc0ec" stroke-width="2.2" fill="none" stroke-linejoin="round"/>
<path d="M241 949.6L261.6 918.7L220.4 918.7Z" fill="#56b4e9"/><path d="M317.7 976L338.3 945.1L297.1 945.1Z" fill="#56b4e9"/><path d="M394.4 999.9L415 969L373.8 969Z" fill="#56b4e9"/><path d="M471.1 1023.9L491.7 993L450.5 993Z" fill="#56b4e9"/><path d="M547.8 1045.6L568.4 1014.7L527.2 1014.7Z" fill="#56b4e9"/><path d="M624.5 1067.6L645.1 1036.7L603.9 1036.7Z" fill="#56b4e9"/><path d="M701.2 1088.1L721.8 1057.2L680.6 1057.2Z" fill="#56b4e9"/><path d="M777.8 1107.6L798.4 1076.7L757.2 1076.7Z" fill="#56b4e9"/><path d="M854.5 1125.6L875.1 1094.7L833.9 1094.7Z" fill="#56b4e9"/><path d="M931.2 1141.6L951.8 1110.7L910.6 1110.7Z" fill="#56b4e9"/><path d="M1007.9 1157.6L1028.5 1126.7L987.3 1126.7Z" fill="#56b4e9"/><path d="M1084.6 1170.6L1105.2 1139.7L1064 1139.7Z" fill="#56b4e9"/><path d="M1161.3 1185.1L1181.9 1154.2L1140.7 1154.2Z" fill="#56b4e9"/><path d="M1238 1198.9L1258.6 1168L1217.4 1168Z" fill="#56b4e9"/><path d="M1314.7 1212.3L1335.3 1181.4L1294.1 1181.4Z" fill="#56b4e9"/><path d="M1391.4 1221.6L1412 1190.7L1370.8 1190.7Z" fill="#56b4e9"/><path d="M1468.1 1234L1488.7 1203.1L1447.5 1203.1Z" fill="#56b4e9"/><path d="M1544.8 1242.2L1565.4 1211.3L1524.2 1211.3Z" fill="#56b4e9"/><path d="M1621.5 1252.9L1642.1 1222L1600.9 1222Z" fill="#56b4e9"/><path d="M1698.2 1262.4L1718.8 1231.5L1677.6 1231.5Z" fill="#56b4e9"/><path d="M1774.8 1267.7L1795.4 1236.8L1754.2 1236.8Z" fill="#56b4e9"/><path d="M1851.5 1274.6L1872.1 1243.7L1830.9 1243.7Z" fill="#56b4e9"/><path d="M1928.2 1281.6L1948.8 1250.7L1907.6 1250.7Z" fill="#56b4e9"/><path d="M2004.9 1287.6L2025.5 1256.7L1984.3 1256.7Z" fill="#56b4e9"/><path d="M2081.6 1293.6L2102.2 1262.7L2061 1262.7Z" fill="#56b4e9"/><path d="M2158.3 1299.6L2178.9 1268.7L2137.7 1268.7Z" fill="#56b4e9"/><path d="M2235 1304.6L2255.6 1273.7L2214.4 1273.7Z" fill="#56b4e9"/>
<polyline points="241,777 317.7,814.5 394.4,852 471.1,891 547.8,929 624.5,963 701.2,995 777.8,1024 854.5,1051 931.2,1074 1007.9,1099 1084.6,1118.5 1161.3,1137 1238,1154 1314.7,1172 1391.4,1185.2 1468.1,1199.8 1544.8,1211 1621.5,1223.1 1698.2,1233 1774.8,1243.6 1851.5,1252 1928.2,1260 2004.9,1268 2081.6,1276 2158.3,1282 2235,1289" stroke="#ebb033" stroke-width="2.2" fill="none" stroke-linejoin="round"/>
<path d="M241 757L261 777L241 797L221 777Z" stroke="#ecb438" stroke-width="2.4" fill="none"/><path d="M317.7 794.5L337.7 814.5L317.7 834.5L297.7 814.5Z" stroke="#ecb438" stroke-width="2.4" fill="none"/><path d="M394.4 832L414.4 852L394.4 872L374.4 852Z" stroke="#ecb438" stroke-width="2.4" fill="none"/><path d="M471.1 871L491.1 891L471.1 911L451.1 891Z" stroke="#ecb438" stroke-width="2.4" fill="none"/><path d="M547.8 909L567.8 929L547.8 949L527.8 929Z" stroke="#ecb438" stroke-width="2.4" fill="none"/><path d="M624.5 943L644.5 963L624.5 983L604.5 963Z" stroke="#ecb438" stroke-width="2.4" fill="none"/><path d="M701.2 975L721.2 995L701.2 1015L681.2 995Z" stroke="#ecb438" stroke-width="2.4" fill="none"/><path d="M777.8 1004L797.8 1024L777.8 1044L757.8 1024Z" stroke="#ecb438" stroke-width="2.4" fill="none"/><path d="M854.5 1031L874.5 1051L854.5 1071L834.5 1051Z" stroke="#ecb438" stroke-width="2.4" fill="none"/><path d="M931.2 1054L951.2 1074L931.2 1094L911.2 1074Z" stroke="#ecb438" stroke-width="2.4" fill="none"/><path d="M1007.9 1079L1027.9 1099L1007.9 1119L987.9 1099Z" stroke="#ecb438" stroke-width="2.4" fill="none"/><path d="M1084.6 1098.5L1104.6 1118.5L1084.6 1138.5L1064.6 1118.5Z" stroke="#ecb438" stroke-width="2.4" fill="none"/><path d="M1161.3 1117L1181.3 1137L1161.3 1157L1141.3 1137Z" stroke="#ecb438" stroke-width="2.4" fill="none"/><path d="M1238 1134L1258 1154L1238 1174L1218 1154Z" stroke="#ecb438" stroke-width="2.4" fill="none"/><path d="M1314.7 1152L1334.7 1172L1314.7 1192L1294.7 1172Z" stroke="#ecb438" stroke-width="2.4" fill="none"/><path d="M1391.4 1165.2L1411.4 1185.2L1391.4 1205.2L1371.4 1185.2Z" stroke="#ecb438" stroke-width="2.4" fill="none"/><path d="M1468.1 1179.8L1488.1 1199.8L1468.1 1219.8L1448.1 1199.8Z" stroke="#ecb438" stroke-width="2.4" fill="none"/><path d="M1544.8 1191L1564.8 1211L1544.8 1231L1524.8 1211Z" stroke="#ecb438" stroke-width="2.4" fill="none"/><path d="M1621.5 1203.1L1641.5 1223.1L1621.5 1243.1L1601.5 1223.1Z" stroke="#ecb438" stroke-width="2.4" fill="none"/><path d="M1698.2 1213L1718.2 1233L1698.2 1253L1678.2 1233Z" stroke="#ecb438" stroke-width="2.4" fill="none"/><path d="M1774.8 1223.6L1794.8 1243.6L1774.8 1263.6L1754.8 1243.6Z" stroke="#ecb438" stroke-width="2.4" fill="none"/><path d="M1851.5 1232L1871.5 1252L1851.5 1272L1831.5 1252Z" stroke="#ecb438" stroke-width="2.4" fill="none"/><path d="M1928.2 1240L1948.2 1260L1928.2 1280L1908.2 1260Z" stroke="#ecb438" stroke-width="2.4" fill="none"/><path d="M2004.9 1248L2024.9 1268L2004.9 1288L1984.9 1268Z" stroke="#ecb438" stroke-width="2.4" fill="none"/><path d="M2081.6 1256L2101.6 1276L2081.6 1296L2061.6 1276Z" stroke="#ecb438" stroke-width="2.4" fill="none"/><path d="M2158.3 1262L2178.3 1282L2158.3 1302L2138.3 1282Z" stroke="#ecb438" stroke-width="2.4" fill="none"/><path d="M2235 1269L2255 1289L2235 1309L2215 1289Z" stroke="#ecb438" stroke-width="2.4" fill="none"/>
<polyline points="241,752 317.7,785 394.4,823.6 471.1,862 547.8,900 624.5,938 701.2,970 777.8,1001 854.5,1029 931.2,1057 1007.9,1083 1084.6,1104.4 1161.3,1124.7 1238,1142.7 1314.7,1158 1391.4,1174 1468.1,1192.7 1544.8,1205 1621.5,1217 1698.2,1225 1774.8,1235 1851.5,1245 1928.2,1254 2004.9,1262 2081.6,1270 2158.3,1277 2235,1285" stroke="#f2e660" stroke-width="2.2" fill="none" stroke-linejoin="round"/>
<path d="M241 732L261 752L241 772L221 752Z" fill="#f0e442"/><path d="M317.7 765L337.7 785L317.7 805L297.7 785Z" fill="#f0e442"/><path d="M394.4 803.6L414.4 823.6L394.4 843.6L374.4 823.6Z" fill="#f0e442"/><path d="M471.1 842L491.1 862L471.1 882L451.1 862Z" fill="#f0e442"/><path d="M547.8 880L567.8 900L547.8 920L527.8 900Z" fill="#f0e442"/><path d="M624.5 918L644.5 938L624.5 958L604.5 938Z" fill="#f0e442"/><path d="M701.2 950L721.2 970L701.2 990L681.2 970Z" fill="#f0e442"/><path d="M777.8 981L797.8 1001L777.8 1021L757.8 1001Z" fill="#f0e442"/><path d="M854.5 1009L874.5 1029L854.5 1049L834.5 1029Z" fill="#f0e442"/><path d="M931.2 1037L951.2 1057L931.2 1077L911.2 1057Z" fill="#f0e442"/><path d="M1007.9 1063L1027.9 1083L1007.9 1103L987.9 1083Z" fill="#f0e442"/><path d="M1084.6 1084.4L1104.6 1104.4L1084.6 1124.4L1064.6 1104.4Z" fill="#f0e442"/><path d="M1161.3 1104.7L1181.3 1124.7L1161.3 1144.7L1141.3 1124.7Z" fill="#f0e442"/><path d="M1238 1122.7L1258 1142.7L1238 1162.7L1218 1142.7Z" fill="#f0e442"/><path d="M1314.7 1138L1334.7 1158L1314.7 1178L1294.7 1158Z" fill="#f0e442"/><path d="M1391.4 1154L1411.4 1174L1391.4 1194L1371.4 1174Z" fill="#f0e442"/><path d="M1468.1 1172.7L1488.1 1192.7L1468.1 1212.7L1448.1 1192.7Z" fill="#f0e442"/><path d="M1544.8 1185L1564.8 1205L1544.8 1225L1524.8 1205Z" fill="#f0e442"/><path d="M1621.5 1197L1641.5 1217L1621.5 1237L1601.5 1217Z" fill="#f0e442"/><path d="M1698.2 1205L1718.2 1225L1698.2 1245L1678.2 1225Z" fill="#f0e442"/><path d="M1774.8 1215L1794.8 1235L1774.8 1255L1754.8 1235Z" fill="#f0e442"/><path d="M1851.5 1225L1871.5 1245L1851.5 1265L1831.5 1245Z" fill="#f0e442"/><path d="M1928.2 1234L1948.2 1254L1928.2 1274L1908.2 1254Z" fill="#f0e442"/><path d="M2004.9 1242L2024.9 1262L2004.9 1282L1984.9 1262Z" fill="#f0e442"/><path d="M2081.6 1250L2101.6 1270L2081.6 1290L2061.6 1270Z" fill="#f0e442"/><path d="M2158.3 1257L2178.3 1277L2158.3 1297L2138.3 1277Z" fill="#f0e442"/><path d="M2235 1265L2255 1285L2235 1305L2215 1285Z" fill="#f0e442"/>
<polyline points="241,753.9 317.7,779.8 394.4,813.9 471.1,848.7 547.8,884.6 624.5,919.5 701.2,953.6 777.8,984.3 854.5,1014.5 931.2,1042.6 1007.9,1067.2 1084.6,1090 1161.3,1110.6 1238,1130.2 1314.7,1148 1391.4,1165 1468.1,1178.6 1544.8,1193.3 1621.5,1206 1698.2,1218.7 1774.8,1229 1851.5,1239 1928.2,1250 2004.9,1259.5 2081.6,1267.3 2158.3,1273.5 2235,1281" stroke="#1f7fbd" stroke-width="2.2" fill="none" stroke-linejoin="round"/>
<path d="M241 733.9L260 747.7L252.8 770.1L229.2 770.1L222 747.7Z" stroke="#3891c3" stroke-width="2.4" fill="none"/><path d="M317.7 759.8L336.7 773.6L329.4 796L305.9 796L298.7 773.6Z" stroke="#3891c3" stroke-width="2.4" fill="none"/><path d="M394.4 793.9L413.4 807.7L406.1 830.1L382.6 830.1L375.4 807.7Z" stroke="#3891c3" stroke-width="2.4" fill="none"/><path d="M471.1 828.7L490.1 842.5L482.8 864.9L459.3 864.9L452.1 842.5Z" stroke="#3891c3" stroke-width="2.4" fill="none"/><path d="M547.8 864.6L566.8 878.4L559.5 900.8L536 900.8L528.7 878.4Z" stroke="#3891c3" stroke-width="2.4" fill="none"/><path d="M624.5 899.5L643.5 913.3L636.2 935.7L612.7 935.7L605.4 913.3Z" stroke="#3891c3" stroke-width="2.4" fill="none"/><path d="M701.2 933.6L720.2 947.4L712.9 969.8L689.4 969.8L682.1 947.4Z" stroke="#3891c3" stroke-width="2.4" fill="none"/><path d="M777.8 964.3L796.9 978.1L789.6 1000.5L766.1 1000.5L758.8 978.1Z" stroke="#3891c3" stroke-width="2.4" fill="none"/><path d="M854.5 994.5L873.6 1008.3L866.3 1030.7L842.8 1030.7L835.5 1008.3Z" stroke="#3891c3" stroke-width="2.4" fill="none"/><path d="M931.2 1022.6L950.3 1036.4L943 1058.8L919.5 1058.8L912.2 1036.4Z" stroke="#3891c3" stroke-width="2.4" fill="none"/><path d="M1007.9 1047.2L1026.9 1061L1019.7 1083.4L996.2 1083.4L988.9 1061Z" stroke="#3891c3" stroke-width="2.4" fill="none"/><path d="M1084.6 1070L1103.6 1083.8L1096.4 1106.2L1072.9 1106.2L1065.6 1083.8Z" stroke="#3891c3" stroke-width="2.4" fill="none"/><path d="M1161.3 1090.6L1180.3 1104.4L1173.1 1126.8L1149.6 1126.8L1142.3 1104.4Z" stroke="#3891c3" stroke-width="2.4" fill="none"/><path d="M1238 1110.2L1257 1124L1249.8 1146.4L1226.2 1146.4L1219 1124Z" stroke="#3891c3" stroke-width="2.4" fill="none"/><path d="M1314.7 1128L1333.7 1141.8L1326.4 1164.2L1302.9 1164.2L1295.7 1141.8Z" stroke="#3891c3" stroke-width="2.4" fill="none"/><path d="M1391.4 1145L1410.4 1158.8L1403.1 1181.2L1379.6 1181.2L1372.4 1158.8Z" stroke="#3891c3" stroke-width="2.4" fill="none"/><path d="M1468.1 1158.6L1487.1 1172.4L1479.8 1194.8L1456.3 1194.8L1449.1 1172.4Z" stroke="#3891c3" stroke-width="2.4" fill="none"/><path d="M1544.8 1173.3L1563.8 1187.1L1556.5 1209.5L1533 1209.5L1525.7 1187.1Z" stroke="#3891c3" stroke-width="2.4" fill="none"/><path d="M1621.5 1186L1640.5 1199.8L1633.2 1222.2L1609.7 1222.2L1602.4 1199.8Z" stroke="#3891c3" stroke-width="2.4" fill="none"/><path d="M1698.2 1198.7L1717.2 1212.5L1709.9 1234.9L1686.4 1234.9L1679.1 1212.5Z" stroke="#3891c3" stroke-width="2.4" fill="none"/><path d="M1774.8 1209L1793.9 1222.8L1786.6 1245.2L1763.1 1245.2L1755.8 1222.8Z" stroke="#3891c3" stroke-width="2.4" fill="none"/><path d="M1851.5 1219L1870.6 1232.8L1863.3 1255.2L1839.8 1255.2L1832.5 1232.8Z" stroke="#3891c3" stroke-width="2.4" fill="none"/><path d="M1928.2 1230L1947.3 1243.8L1940 1266.2L1916.5 1266.2L1909.2 1243.8Z" stroke="#3891c3" stroke-width="2.4" fill="none"/><path d="M2004.9 1239.5L2023.9 1253.3L2016.7 1275.7L1993.2 1275.7L1985.9 1253.3Z" stroke="#3891c3" stroke-width="2.4" fill="none"/><path d="M2081.6 1247.3L2100.6 1261.1L2093.4 1283.5L2069.9 1283.5L2062.6 1261.1Z" stroke="#3891c3" stroke-width="2.4" fill="none"/><path d="M2158.3 1253.5L2177.3 1267.3L2170.1 1289.7L2146.6 1289.7L2139.3 1267.3Z" stroke="#3891c3" stroke-width="2.4" fill="none"/><path d="M2235 1261L2254 1274.8L2246.8 1297.2L2223.2 1297.2L2216 1274.8Z" stroke="#3891c3" stroke-width="2.4" fill="none"/>
<polyline points="241,881 317.7,882 394.4,892 471.1,908 547.8,926 624.5,947 701.2,969.7 777.8,992 854.5,1012.8 931.2,1033.7 1007.9,1054 1084.6,1072.4 1161.3,1091.1 1238,1108 1314.7,1125 1391.4,1140.2 1468.1,1154 1544.8,1166 1621.5,1180.8 1698.2,1192.6 1774.8,1204.8 1851.5,1216 1928.2,1226.4 2004.9,1236 2081.6,1246 2158.3,1252.5 2235,1261" stroke="#ea4438" stroke-width="2.2" fill="none" stroke-linejoin="round"/>
<path d="M241 861L260 874.8L252.8 897.2L229.2 897.2L222 874.8Z" fill="#e51e10"/><path d="M317.7 862L336.7 875.8L329.4 898.2L305.9 898.2L298.7 875.8Z" fill="#e51e10"/><path d="M394.4 872L413.4 885.8L406.1 908.2L382.6 908.2L375.4 885.8Z" fill="#e51e10"/><path d="M471.1 888L490.1 901.8L482.8 924.2L459.3 924.2L452.1 901.8Z" fill="#e51e10"/><path d="M547.8 906L566.8 919.8L559.5 942.2L536 942.2L528.7 919.8Z" fill="#e51e10"/><path d="M624.5 927L643.5 940.8L636.2 963.2L612.7 963.2L605.4 940.8Z" fill="#e51e10"/><path d="M701.2 949.7L720.2 963.5L712.9 985.9L689.4 985.9L682.1 963.5Z" fill="#e51e10"/><path d="M777.8 972L796.9 985.8L789.6 1008.2L766.1 1008.2L758.8 985.8Z" fill="#e51e10"/><path d="M854.5 992.8L873.6 1006.6L866.3 1029L842.8 1029L835.5 1006.6Z" fill="#e51e10"/><path d="M931.2 1013.7L950.3 1027.5L943 1049.9L919.5 1049.9L912.2 1027.5Z" fill="#e51e10"/><path d="M1007.9 1034L1026.9 1047.8L1019.7 1070.2L996.2 1070.2L988.9 1047.8Z" fill="#e51e10"/><path d="M1084.6 1052.4L1103.6 1066.2L1096.4 1088.6L1072.9 1088.6L1065.6 1066.2Z" fill="#e51e10"/><path d="M1161.3 1071.1L1180.3 1084.9L1173.1 1107.3L1149.6 1107.3L1142.3 1084.9Z" fill="#e51e10"/><path d="M1238 1088L1257 1101.8L1249.8 1124.2L1226.2 1124.2L1219 1101.8Z" fill="#e51e10"/><path d="M1314.7 1105L1333.7 1118.8L1326.4 1141.2L1302.9 1141.2L1295.7 1118.8Z" fill="#e51e10"/><path d="M1391.4 1120.2L1410.4 1134L1403.1 1156.4L1379.6 1156.4L1372.4 1134Z" fill="#e51e10"/><path d="M1468.1 1134L1487.1 1147.8L1479.8 1170.2L1456.3 1170.2L1449.1 1147.8Z" fill="#e51e10"/><path d="M1544.8 1146L1563.8 1159.8L1556.5 1182.2L1533 1182.2L1525.7 1159.8Z" fill="#e51e10"/><path d="M1621.5 1160.8L1640.5 1174.6L1633.2 1197L1609.7 1197L1602.4 1174.6Z" fill="#e51e10"/><path d="M1698.2 1172.6L1717.2 1186.4L1709.9 1208.8L1686.4 1208.8L1679.1 1186.4Z" fill="#e51e10"/><path d="M1774.8 1184.8L1793.9 1198.6L1786.6 1221L1763.1 1221L1755.8 1198.6Z" fill="#e51e10"/><path d="M1851.5 1196L1870.6 1209.8L1863.3 1232.2L1839.8 1232.2L1832.5 1209.8Z" fill="#e51e10"/><path d="M1928.2 1206.4L1947.3 1220.2L1940 1242.6L1916.5 1242.6L1909.2 1220.2Z" fill="#e51e10"/><path d="M2004.9 1216L2023.9 1229.8L2016.7 1252.2L1993.2 1252.2L1985.9 1229.8Z" fill="#e51e10"/><path d="M2081.6 1226L2100.6 1239.8L2093.4 1262.2L2069.9 1262.2L2062.6 1239.8Z" fill="#e51e10"/><path d="M2158.3 1232.5L2177.3 1246.3L2170.1 1268.7L2146.6 1268.7L2139.3 1246.3Z" fill="#e51e10"/><path d="M2235 1241L2254 1254.8L2246.8 1277.2L2223.2 1277.2L2216 1254.8Z" fill="#e51e10"/>
<polyline points="241,1222.7 317.7,1215 394.4,1207.7 471.1,1200.8 547.8,1196 624.5,1192.5 701.2,1189 777.8,1188.3 854.5,1186.4 931.2,1187.3 1007.9,1187 1084.6,1188.3 1161.3,1189.2 1238,1191.5 1314.7,1192.8 1391.4,1195.4 1468.1,1198.4 1544.8,1201.4 1621.5,1204.9 1698.2,1208.4 1774.8,1211.3 1851.5,1214.8 1928.2,1219 2004.9,1223.2 2081.6,1227.1 2158.3,1231.5 2235,1236.9" stroke="#1a1a1a" stroke-width="2.2" fill="none" stroke-linejoin="round"/>
<circle cx="241" cy="1222.7" r="19.4" stroke="#000000" stroke-width="3.6" fill="none"/><path d="M241 1203.3V1222.7" stroke="#000000" stroke-width="3.2"/><circle cx="317.7" cy="1215" r="19.4" stroke="#000000" stroke-width="3.6" fill="none"/><path d="M317.7 1195.6V1215" stroke="#000000" stroke-width="3.2"/><circle cx="394.4" cy="1207.7" r="19.4" stroke="#000000" stroke-width="3.6" fill="none"/><path d="M394.4 1188.3V1207.7" stroke="#000000" stroke-width="3.2"/><circle cx="471.1" cy="1200.8" r="19.4" stroke="#000000" stroke-width="3.6" fill="none"/><path d="M471.1 1181.4V1200.8" stroke="#000000" stroke-width="3.2"/><circle cx="547.8" cy="1196" r="19.4" stroke="#000000" stroke-width="3.6" fill="none"/><path d="M547.8 1176.6V1196" stroke="#000000" stroke-width="3.2"/><circle cx="624.5" cy="1192.5" r="19.4" stroke="#000000" stroke-width="3.6" fill="none"/><path d="M624.5 1173.1V1192.5" stroke="#000000" stroke-width="3.2"/><circle cx="701.2" cy="1189" r="19.4" stroke="#000000" stroke-width="3.6" fill="none"/><path d="M701.2 1169.6V1189" stroke="#000000" stroke-width="3.2"/><circle cx="777.8" cy="1188.3" r="19.4" stroke="#000000" stroke-width="3.6" fill="none"/><path d="M777.8 1168.9V1188.3" stroke="#000000" stroke-width="3.2"/><circle cx="854.5" cy="1186.4" r="19.4" stroke="#000000" stroke-width="3.6" fill="none"/><path d="M854.5 1167V1186.4" stroke="#000000" stroke-width="3.2"/><circle cx="931.2" cy="1187.3" r="19.4" stroke="#000000" stroke-width="3.6" fill="none"/><path d="M931.2 1167.9V1187.3" stroke="#000000" stroke-width="3.2"/><circle cx="1007.9" cy="1187" r="19.4" stroke="#000000" stroke-width="3.6" fill="none"/><path d="M1007.9 1167.6V1187" stroke="#000000" stroke-width="3.2"/><circle cx="1084.6" cy="1188.3" r="19.4" stroke="#000000" stroke-width="3.6" fill="none"/><path d="M1084.6 1168.9V1188.3" stroke="#000000" stroke-width="3.2"/><circle cx="1161.3" cy="1189.2" r="19.4" stroke="#000000" stroke-width="3.6" fill="none"/><path d="M1161.3 1169.8V1189.2" stroke="#000000" stroke-width="3.2"/><circle cx="1238" cy="1191.5" r="19.4" stroke="#000000" stroke-width="3.6" fill="none"/><path d="M1238 1172.1V1191.5" stroke="#000000" stroke-width="3.2"/><circle cx="1314.7" cy="1192.8" r="19.4" stroke="#000000" stroke-width="3.6" fill="none"/><path d="M1314.7 1173.4V1192.8" stroke="#000000" stroke-width="3.2"/><circle cx="1391.4" cy="1195.4" r="19.4" stroke="#000000" stroke-width="3.6" fill="none"/><path d="M1391.4 1176V1195.4" stroke="#000000" stroke-width="3.2"/><circle cx="1468.1" cy="1198.4" r="19.4" stroke="#000000" stroke-width="3.6" fill="none"/><path d="M1468.1 1179V1198.4" stroke="#000000" stroke-width="3.2"/><circle cx="1544.8" cy="1201.4" r="19.4" stroke="#000000" stroke-width="3.6" fill="none"/><path d="M1544.8 1182V1201.4" stroke="#000000" stroke-width="3.2"/><circle cx="1621.5" cy="1204.9" r="19.4" stroke="#000000" stroke-width="3.6" fill="none"/><path d="M1621.5 1185.5V1204.9" stroke="#000000" stroke-width="3.2"/><circle cx="1698.2" cy="1208.4" r="19.4" stroke="#000000" stroke-width="3.6" fill="none"/><path d="M1698.2 1189V1208.4" stroke="#000000" stroke-width="3.2"/><circle cx="1774.8" cy="1211.3" r="19.4" stroke="#000000" stroke-width="3.6" fill="none"/><path d="M1774.8 1191.9V1211.3" stroke="#000000" stroke-width="3.2"/><circle cx="1851.5" cy="1214.8" r="19.4" stroke="#000000" stroke-width="3.6" fill="none"/><path d="M1851.5 1195.4V1214.8" stroke="#000000" stroke-width="3.2"/><circle cx="1928.2" cy="1219" r="19.4" stroke="#000000" stroke-width="3.6" fill="none"/><path d="M1928.2 1199.6V1219" stroke="#000000" stroke-width="3.2"/><circle cx="2004.9" cy="1223.2" r="19.4" stroke="#000000" stroke-width="3.6" fill="none"/><path d="M2004.9 1203.8V1223.2" stroke="#000000" stroke-width="3.2"/><circle cx="2081.6" cy="1227.1" r="19.4" stroke="#000000" stroke-width="3.6" fill="none"/><path d="M2081.6 1207.7V1227.1" stroke="#000000" stroke-width="3.2"/><circle cx="2158.3" cy="1231.5" r="19.4" stroke="#000000" stroke-width="3.6" fill="none"/><path d="M2158.3 1212.1V1231.5" stroke="#000000" stroke-width="3.2"/><circle cx="2235" cy="1236.9" r="19.4" stroke="#000000" stroke-width="3.6" fill="none"/><path d="M2235 1217.5V1236.9" stroke="#000000" stroke-width="3.2"/>
<path d="M241 961.4L2235 1004.6" stroke="#9400d3" stroke-width="4.4" fill="none"/>
<path d="M241 1082.2L2235 1122.1" stroke="#009e73" stroke-width="4.4" fill="none"/>
<text x="2027.5" y="222.2" font-size="45" text-anchor="end">#&#160;1</text>
<path d="M2054 206.4H2181.5" stroke="#d292f0" stroke-width="4.0"/>
<path d="M2096.4 206.4H2137.6M2117 185.8V227" stroke="#ac38dd" stroke-width="2.4" fill="none"/>
<text x="2027.5" y="266.8" font-size="45" text-anchor="end">#&#160;2</text>
<path d="M2054 251H2181.5" stroke="#2aa886" stroke-width="2.6"/>
<path d="M2096.7 230.7L2137.3 271.3M2096.7 271.3L2137.3 230.7" stroke="#38b392" stroke-width="2.4" fill="none"/>
<text x="2027.5" y="311.4" font-size="45" text-anchor="end">#&#160;3</text>
<path d="M2054 295.6H2181.5" stroke="#8ccff5" stroke-width="2.6"/>
<path d="M2096.7 275.3L2137.3 315.9M2096.7 315.9L2137.3 275.3M2096.4 295.6H2137.6M2117 275V316.2" stroke="#7bc4ee" stroke-width="2.4" fill="none"/>
<text x="2027.5" y="356" font-size="45" text-anchor="end">#&#160;4</text>
<path d="M2054 340.2H2181.5" stroke="#e8a934" stroke-width="2.4"/>
<rect x="2097.2" y="320.4" width="39.6" height="39.6" stroke="#ecb438" stroke-width="2.4" fill="none"/>
<text x="2027.5" y="400.6" font-size="45" text-anchor="end">#&#160;5</text>
<path d="M2054 384.8H2181.5" stroke="#f5eb8a" stroke-width="2.7"/>
<rect x="2097.1" y="364.9" width="39.8" height="39.8" fill="#f0e442"/>
<text x="2027.5" y="445.2" font-size="45" text-anchor="end">#&#160;6</text>
<path d="M2054 429.4H2181.5" stroke="#6aaedb" stroke-width="3.4"/>
<circle cx="2117" cy="429.4" r="19.1" stroke="#3891c3" stroke-width="2.4" fill="none"/>
<text x="2027.5" y="489.8" font-size="45" text-anchor="end">#&#160;7</text>
<path d="M2054 474H2181.5" stroke="#ee6a60" stroke-width="3.0"/>
<circle cx="2117" cy="474" r="19.8" fill="#e51e10"/>
<text x="2027.5" y="534.4" font-size="45" text-anchor="end">#&#160;8</text>
<path d="M2054 518.6H2181.5" stroke="#8a8a8a" stroke-width="4.4"/>
<path d="M2117 498L2137.6 528.9L2096.4 528.9Z" stroke="#111111" stroke-width="2.4" fill="none" stroke-linejoin="miter"/>
<text x="2027.5" y="579" font-size="45" text-anchor="end">#&#160;9</text>
<path d="M2054 563.2H2181.5" stroke="#a436e2" stroke-width="2.4"/>
<path d="M2117 542.6L2137.6 573.5L2096.4 573.5Z" fill="#9400d3"/>
<text x="2027.5" y="623.6" font-size="45" text-anchor="end">#&#160;10</text>
<path d="M2054 607.8H2181.5" stroke="#90d4be" stroke-width="4.0"/>
<path d="M2117 628.4L2137.6 597.5L2096.4 597.5Z" stroke="#38b392" stroke-width="2.4" fill="none"/>
<text x="2027.5" y="668.2" font-size="45" text-anchor="end">#&#160;11</text>
<path d="M2054 652.4H2181.5" stroke="#6cc0ee" stroke-width="2.4"/>
<path d="M2117 673L2137.6 642.1L2096.4 642.1Z" fill="#56b4e9"/>
<text x="2027.5" y="712.8" font-size="45" text-anchor="end">#&#160;12</text>
<path d="M2054 697H2181.5" stroke="#f0c060" stroke-width="3.4"/>
<path d="M2117 677L2137 697L2117 717L2097 697Z" stroke="#ecb438" stroke-width="2.4" fill="none"/>
<text x="2027.5" y="757.4" font-size="45" text-anchor="end">#&#160;13</text>
<path d="M2054 741.6H2181.5" stroke="#f5ec80" stroke-width="2.7"/>
<path d="M2117 721.6L2137 741.6L2117 761.6L2097 741.6Z" fill="#f0e442"/>
<text x="2027.5" y="802" font-size="45" text-anchor="end">#&#160;14</text>
<path d="M2054 786.2H2181.5" stroke="#2b88c4" stroke-width="2.7"/>
<path d="M2117 766.2L2136 780L2128.8 802.4L2105.2 802.4L2098 780Z" stroke="#3891c3" stroke-width="2.4" fill="none"/>
<text x="2027.5" y="846.6" font-size="45" text-anchor="end">#&#160;15</text>
<path d="M2054 830.8H2181.5" stroke="#f07060" stroke-width="2.0"/>
<path d="M2117 810.8L2136 824.6L2128.8 847L2105.2 847L2098 824.6Z" fill="#e51e10"/>
<text x="2027.5" y="891.2" font-size="45" text-anchor="end">#&#160;16</text>
<path d="M2054 875.4H2181.5" stroke="#222222" stroke-width="2.0"/>
<circle cx="2117" cy="875.4" r="19.4" stroke="#000000" stroke-width="3.6" fill="none"/><path d="M2117 856V875.4" stroke="#000000" stroke-width="3.2"/>
<text x="2027" y="934" font-size="44.6" text-anchor="end">Smith &amp; Shi (1992)</text>
<path d="M2054 920H2181.5" stroke="#9400d3" stroke-width="4.4"/>
<text x="2025" y="979.2" font-size="42" text-anchor="end" textLength="273.8" lengthAdjust="spacingAndGlyphs">Kettler (2020)</text>
<path d="M2054 964.6H2181.5" stroke="#009e73" stroke-width="4.4"/>
<rect x="241" y="164.5" width="1994" height="1327.5" stroke="#000" stroke-width="3.4" fill="none"/>
<text x="1237" y="112.3" font-size="44.6" text-anchor="middle">Spectral band Mie-Debye calculations</text>
<text x="1237" y="1619.3" font-size="44.6" text-anchor="middle">Cloud drop effective radius [&#956;m]</text>
<text transform="translate(84.3 827.6) rotate(-90)" x="0" y="0" font-size="44.7" text-anchor="middle">Absorptance for 10 g/m<tspan font-size="36" dy="-23">2</tspan><tspan dy="23"> water load [-]</tspan></text>
<text x="157.5" y="91" font-size="50" text-anchor="middle">(b)</text>
</svg></body></html>
